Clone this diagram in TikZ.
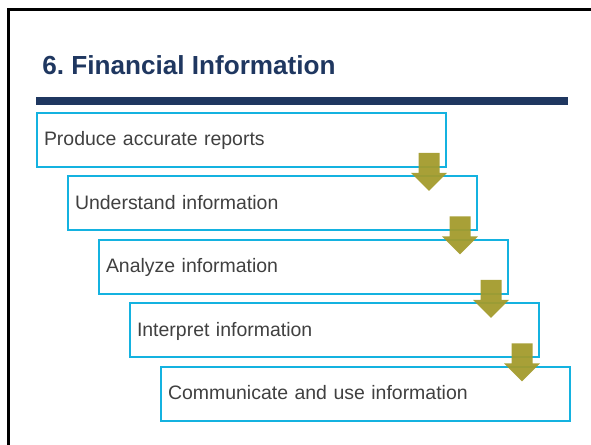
\documentclass[tikz,border=0pt]{standalone}
\usepackage{fontspec}
\setmainfont{Liberation Sans}
\usepackage{tikz}
\usetikzlibrary{calc}
\definecolor{navy}{RGB}{31,55,96}
\definecolor{stepcyan}{RGB}{20,178,224}
\definecolor{olive}{RGB}{163,155,44}
\definecolor{txtgray}{RGB}{64,64,64}
\frenchspacing

\tikzset{
  stepbox/.style={draw=stepcyan, line width=1.6pt, rectangle, minimum width=306.75pt,
    minimum height=40.5pt, text width=296.25pt, inner xsep=5.25pt, align=left,
    text height=10.5pt, text depth=1.5pt, text=txtgray,
    font=\fontsize{14.6}{17}\selectfont},
  downarrow/.style={fill=olive, opacity=0.95}
}

\begin{document}
\begin{tikzpicture}[x=0.75pt, y=-0.75pt]
		\useasboundingbox (0,0) rectangle (591,444);

		% slide frame and title
		\draw [black, line width=2.4pt] (8.5,450) -- (8.5,9.5) -- (600,9.5);
		\node [anchor=base west, inner sep=0, text=navy, font=\fontsize{19.6}{24}\selectfont\bfseries] (title) at (42,74) {6. Financial Information};
		\draw [navy, line width=6pt] (36,101) coordinate (rulel) -- (568,101) coordinate (ruler);

		% steps
		\node [stepbox] (b1) at (241.5,139.75) {Produce accurate reports};
		\node [stepbox] (b2) at (272.5,203.25) {Understand information};
		\node [stepbox] (b3) at (303.5,266.75) {Analyze information};
		\node [stepbox] (b4) at (334.5,330.25) {Interpret information};
		\node [stepbox] (b5) at (365.5,393.75) {Communicate and use information};

		% arrows between steps
		\foreach \s in {b1,b2,b3,b4}
			\fill [downarrow] ($(\s.south east)+(-28.5,-15)$) -- ++(21,0) -- ++(0,20) -- ++(7.5,0)
				-- ++(-18,18) -- ++(-18,-18) -- ++(7.5,0) -- cycle;

	\end{tikzpicture}
\end{document}
